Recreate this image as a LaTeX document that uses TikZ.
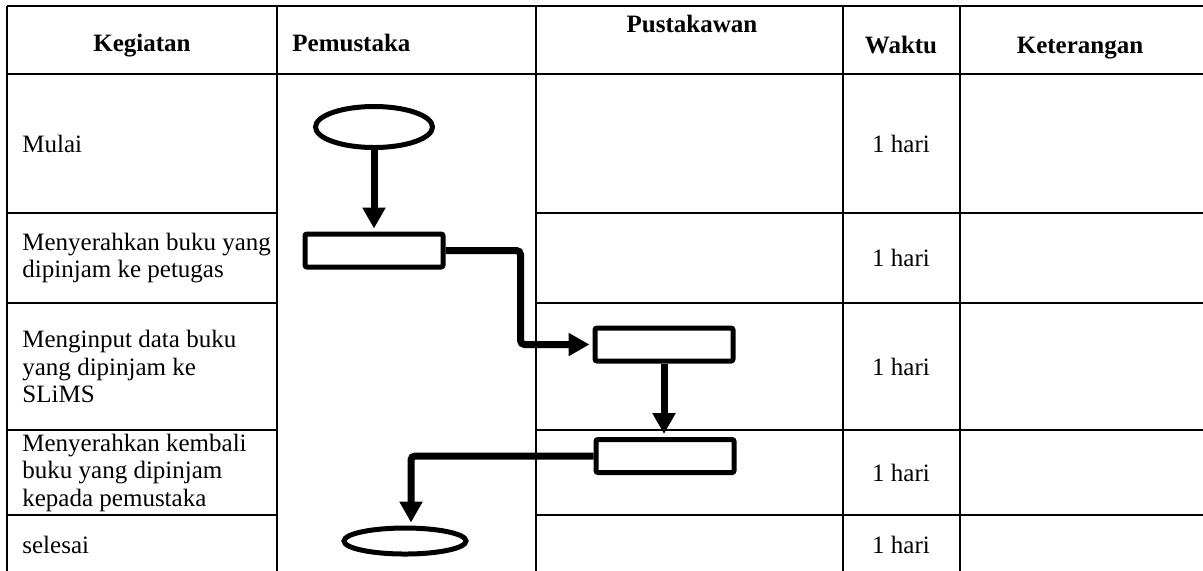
\documentclass[tikz,border=0pt]{standalone}
\usepackage{fontspec}
\setmainfont{Liberation Serif}
\usetikzlibrary{positioning,arrows.meta,shapes.geometric}

\begin{document}
\begin{tikzpicture}[
    x=0.5pt, y=-0.5pt,
    grid/.style={line width=1pt},
    head/.style={font=\fontsize{12.5}{15}\selectfont\bfseries, anchor=base, inner sep=0pt},
    cell/.style={font=\fontsize{12.5}{13.75}\selectfont, align=left, anchor=west, inner sep=0pt},
    hari/.style={font=\fontsize{12.5}{15}\selectfont, inner sep=0pt},
    term/.style={ellipse, draw, line width=2.5pt, inner sep=0pt},
    proc/.style={rectangle, draw, line width=2.5pt, rounded corners=1pt,
                 minimum width=69pt, minimum height=16.5pt, inner sep=0pt},
    arr/.style={-{Triangle[length=10.5pt, width=11pt]}, line width=3.5pt,
                rounded corners=2pt, shorten >=1.5pt}
]
\useasboundingbox (0,0) rectangle (1203,570);
\clip (0,0) rectangle (1203,570);
% table
\draw[grid] (7,6) -- (1210,6) (7,74) -- (1210,74);
\draw[grid] (7,6) -- (7,580) (277,6) -- (277,580) (536,6) -- (536,580)
            (843,6) -- (843,580) (960,6) -- (960,580);
\draw[grid] (7,213) -- (277,213) (536,213) -- (1210,213)
            (7,303) -- (277,303) (536,303) -- (1210,303)
            (7,430) -- (277,430) (536,430) -- (1210,430)
            (7,515) -- (277,515) (536,515) -- (1210,515);
% header
\node[head] (hkeg) at (142,51) {Kegiatan};
\node[head, anchor=base west] (hpem) at (292,51) {Pemustaka};
\node[head] (hpus) at (692,32) {Pustakawan};
\node[head] (hwkt) at (901,53) {Waktu};
\node[head] (hket) at (1080,53) {Keterangan};
% kegiatan
\node[cell] (k1) at (22,143.5) {Mulai};
\node[cell] (k2) at (22,258) {Menyerahkan buku yang\\dipinjam ke petugas};
\node[cell] (k3) at (22,366.5) {Menginput data buku\\yang dipinjam ke\\SLiMS};
\node[cell] (k4) at (22,472.5) {Menyerahkan kembali\\buku yang dipinjam\\kepada pemustaka};
\node[cell] (k5) at (22,545) {selesai};
% waktu
\node[hari] (w1) at (901,143.5) {1 hari};
\node[hari] (w2) at (901,258) {1 hari};
\node[hari] (w3) at (901,366.5) {1 hari};
\node[hari] (w4) at (901,472.5) {1 hari};
\node[hari] (w5) at (901,545) {1 hari};
% flow
\node[term, minimum width=58.5pt, minimum height=20.5pt] (mulai) at (374,127) {};
\node[proc] (serah) at (374,250.5) {};
\node[proc] (input) at (664,344.5) {};
\node[proc] (kembali) at (665,456) {};
\node[term, minimum width=61pt, minimum height=13pt] (selesai) at (405,541) {};
\draw[arr] (mulai.south) -- (serah.north);
\draw[arr] (serah.east) -- ++(75,0) |- (input.west);
\draw[arr] (input.south) -- (input.south |- kembali.north);
\draw[arr] (kembali.west) -| ([xshift=3pt]selesai.north);
\end{tikzpicture}
\end{document}
